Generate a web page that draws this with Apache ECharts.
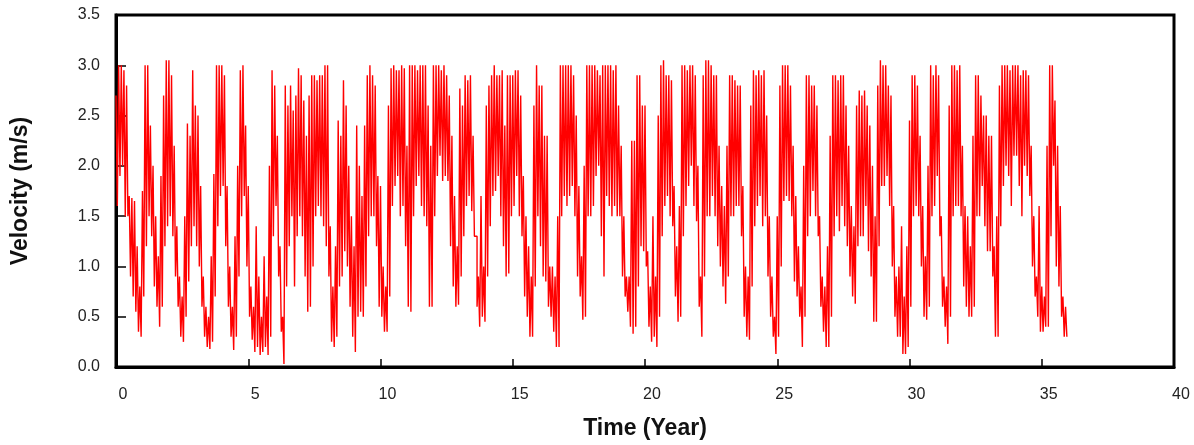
<!DOCTYPE html>
<html>
<head>
<meta charset="utf-8">
<script src="https://cdn.jsdelivr.net/npm/echarts@6/dist/echarts.min.js"></script>
<style>
html,body{margin:0;padding:0;background:#fff;}
#chart{width:1194px;height:445px;}
</style>
</head>
<body>
<div id="chart"></div>
<script>
// Readings are taken in 0.1-year bins; in each bin the highest and the lowest
// velocity (m/s) seen in the picture are recorded (one row per year).
const startYear = 0;
const binYears = 0.1;

const velocityHigh = [
  2.7,3.0,3.0,2.95,2.8,1.7,1.68,1.65,1.2,0.8,
  1.75,3.0,3.0,2.4,2.0,1.5,1.1,1.9,2.7,3.05,
  3.05,2.9,2.2,1.4,0.9,0.7,1.5,2.42,2.3,2.95,
  2.6,2.5,1.8,0.9,0.6,0.5,1.1,1.92,3.0,3.0,
  3.0,2.9,1.8,1.0,0.6,1.3,2.0,2.95,3.0,2.4,
  1.8,0.8,0.6,1.4,0.9,0.5,1.1,0.7,2.0,2.95,
  2.8,2.3,1.2,0.5,2.8,2.6,2.8,2.55,2.7,2.97,
  2.9,2.65,2.3,2.7,2.9,2.9,2.85,2.9,2.9,3.0,
  3.0,1.4,0.8,1.2,2.45,2.3,2.85,2.6,2.0,1.5,
  1.2,2.4,2.0,1.7,2.4,2.9,3.0,2.9,2.8,1.9,
  1.8,1.0,0.8,2.6,2.97,3.0,2.95,2.95,3.0,2.97,
  2.2,3.0,3.0,3.0,2.95,3.0,3.0,3.0,2.6,2.2,
  3.0,3.0,3.0,2.95,3.0,2.9,2.7,2.3,1.7,1.2,
  2.77,2.6,2.9,2.85,2.9,2.3,1.3,0.9,1.7,1.0,
  2.6,2.8,2.9,3.0,2.9,2.9,2.95,2.4,2.9,2.9,
  2.9,2.95,2.95,2.7,1.9,1.5,1.2,0.9,2.6,3.0,
  2.8,2.8,2.3,2.3,1.0,1.0,0.9,1.5,3.0,3.0,
  3.0,3.0,3.0,2.9,2.5,1.8,1.1,2.0,3.0,3.0,
  3.0,3.0,2.95,2.9,3.0,3.0,3.0,3.0,2.95,3.0,
  2.6,2.2,1.5,0.9,0.9,2.25,2.25,2.9,2.9,2.6,
  2.6,1.15,0.8,1.5,0.9,2.5,3.0,3.05,2.9,2.9,
  2.85,1.8,1.2,1.6,3.0,3.0,2.95,3.0,3.0,2.9,
  2.0,0.9,2.9,3.05,3.05,3.0,2.9,2.9,2.2,1.8,
  1.6,2.2,2.9,2.9,2.85,2.8,2.8,1.8,1.0,0.9,
  2.6,2.95,2.9,2.95,2.9,2.95,2.5,1.5,0.9,0.5,
  1.5,2.8,3.0,3.0,3.0,2.8,2.2,1.7,1.2,0.8,
  2.0,2.9,2.9,2.8,2.8,2.6,1.5,0.9,0.8,1.2,
  2.3,2.9,2.9,2.85,2.9,2.9,2.6,2.2,1.6,1.4,
  2.6,2.75,2.7,2.75,2.6,2.4,2.0,1.5,2.8,3.05,
  3.0,3.0,2.8,2.7,1.6,0.9,1.0,1.4,0.7,1.2,
  2.45,2.9,2.9,2.8,2.3,1.6,1.1,2.0,3.0,2.9,
  3.0,2.9,1.5,0.9,0.8,2.6,3.0,3.0,2.95,3.0,
  2.2,1.6,1.5,1.2,2.3,2.9,2.9,2.7,2.5,2.5,
  2.3,2.3,1.2,1.5,2.8,3.0,3.0,3.0,2.95,3.0,
  3.0,3.0,2.9,2.95,2.95,2.9,2.2,1.5,0.9,1.6,
  0.8,0.7,2.2,3.0,3.0,2.65,2.2,1.6,0.7,0.6
];

const velocityLow = [
  1.6,1.9,2.0,1.5,1.5,0.9,0.7,0.55,0.35,0.3,
  0.7,1.2,1.5,1.3,0.8,0.6,0.4,0.6,1.2,1.4,
  1.5,1.3,0.9,0.6,0.3,0.25,0.5,0.85,1.2,1.4,
  1.2,1.0,0.6,0.3,0.2,0.18,0.25,0.7,1.4,1.7,
  1.8,1.2,0.6,0.3,0.17,0.3,0.9,1.5,1.7,1.0,
  0.5,0.27,0.15,0.2,0.12,0.15,0.2,0.12,0.3,1.3,
  1.6,0.9,0.35,0.03,0.8,1.2,1.5,0.8,1.3,1.5,
  1.3,0.9,0.55,0.6,1.0,1.5,1.6,1.5,1.4,1.2,
  0.9,0.25,0.2,0.3,0.8,0.9,1.15,1.0,0.6,0.3,
  0.15,0.5,0.55,0.5,0.8,1.3,1.5,1.5,1.2,0.6,
  0.5,0.35,0.35,0.7,1.6,1.8,1.9,1.5,1.6,1.2,
  0.6,0.55,1.5,1.8,1.9,1.6,1.5,1.4,0.6,0.6,
  1.5,1.9,2.1,1.85,1.9,1.85,1.2,0.8,0.6,0.62,
  0.9,1.3,1.6,1.7,1.55,1.3,0.6,0.4,0.5,0.45,
  0.9,1.4,1.7,1.75,1.9,1.5,1.2,0.9,0.93,1.5,
  1.6,1.9,1.5,1.3,0.7,0.5,0.3,0.3,0.8,1.5,
  1.2,0.9,0.85,0.6,0.5,0.35,0.2,0.2,1.5,1.7,
  1.6,1.7,1.8,1.5,0.9,0.7,0.47,0.5,1.5,1.5,
  1.6,1.9,2.0,1.3,0.9,1.7,1.6,1.5,1.6,1.5,
  1.5,0.9,0.7,0.55,0.4,0.33,0.4,0.8,1.2,1.15,
  1.0,0.4,0.25,0.3,0.2,0.5,1.3,1.6,1.7,1.5,
  1.4,0.7,0.45,0.5,1.3,1.6,1.8,2.0,1.6,1.45,
  0.6,0.3,0.9,1.5,1.5,1.7,1.5,1.2,1.0,0.8,
  0.63,0.9,1.5,1.5,1.6,1.6,1.3,0.5,0.3,0.27,
  0.8,1.4,1.6,1.7,1.4,1.5,0.9,0.5,0.3,0.13,
  0.3,1.0,1.65,1.7,1.65,1.5,0.85,0.7,0.5,0.2,
  0.5,1.3,1.5,1.75,1.5,1.3,0.6,0.35,0.2,0.2,
  0.5,1.3,1.5,1.35,1.6,1.4,1.2,0.9,0.7,0.63,
  1.2,1.3,1.3,1.6,1.15,0.9,0.45,0.45,1.2,1.8,
  1.8,1.9,1.6,1.0,0.5,0.3,0.3,0.13,0.13,0.2,
  0.6,1.5,1.6,1.5,1.0,0.5,0.47,0.6,1.5,1.6,
  1.9,1.3,0.6,0.4,0.23,0.5,1.5,1.6,1.6,1.5,
  0.8,0.6,0.5,0.5,0.6,1.5,1.5,1.8,1.4,1.15,
  1.15,0.9,0.3,0.3,1.4,1.8,2.0,1.9,1.6,2.1,
  2.1,1.8,1.5,2.0,1.9,1.7,1.0,0.7,0.5,0.35,
  0.35,0.4,0.4,1.3,2.0,1.0,0.8,0.5,0.3,0.3
];

const xTicks = [0, 5, 10, 15, 20, 25, 30, 35, 40];
const yTicks = [0.0, 0.5, 1.0, 1.5, 2.0, 2.5, 3.0, 3.5];
const xTitle = 'Time (Year)';
const yTitle = 'Velocity (m/s)';

// Each bin: its high reading at the bin start, its low reading at the bin middle
const seriesData = [];
velocityHigh.forEach((hi, i) => {
  const t = startYear + i * binYears;
  seriesData.push([+t.toFixed(3), hi]);
  seriesData.push([+(t + binYears / 2).toFixed(3), velocityLow[i]]);
});

const chart = echarts.init(document.getElementById('chart'), null, {renderer: 'canvas'});
const labelFont = {fontFamily: 'Liberation Sans, Arial, sans-serif', fontSize: 16, color: '#222'};
chart.setOption({
  animation: false,
  backgroundColor: '#fff',
  grid: {
    left: 116, right: 20, top: 15, bottom: 78,
    show: true, borderColor: '#000', borderWidth: 3, backgroundColor: 'transparent'
  },
  xAxis: {
    type: 'value',
    min: xTicks[0], max: xTicks[xTicks.length - 1], interval: 5,
    name: xTitle, nameLocation: 'middle', nameGap: 50,
    nameTextStyle: {fontFamily: 'Liberation Sans, Arial, sans-serif', fontSize: 23, fontWeight: 'bold', color: '#111'},
    axisLine: {show: true, lineStyle: {color: '#000', width: 3}},
    axisTick: {show: true, inside: true, length: 8, lineStyle: {color: '#000', width: 1.5}},
    axisLabel: Object.assign({margin: 20, padding: [0, 0, 0, 14],
      formatter: v => String(v)}, labelFont),
    splitLine: {show: false}
  },
  yAxis: {
    type: 'value',
    min: yTicks[0], max: yTicks[yTicks.length - 1], interval: 0.5,
    name: yTitle, nameLocation: 'middle', nameGap: 84,
    nameTextStyle: {fontFamily: 'Liberation Sans, Arial, sans-serif', fontSize: 23, fontWeight: 'bold', color: '#111'},
    axisLine: {show: true, lineStyle: {color: '#000', width: 3}},
    axisTick: {show: true, inside: true, length: 10, lineStyle: {color: '#000', width: 1.5}},
    axisLabel: Object.assign({margin: 16, formatter: v => v.toFixed(1)}, labelFont),
    splitLine: {show: false}
  },
  series: [{
    type: 'line',
    data: seriesData,
    step: 'end',
    showSymbol: false,
    symbol: 'none',
    sampling: false,
    lineStyle: {color: '#ff0000', width: 1.4},
    z: 1
  }]
});
</script>
</body>
</html>
